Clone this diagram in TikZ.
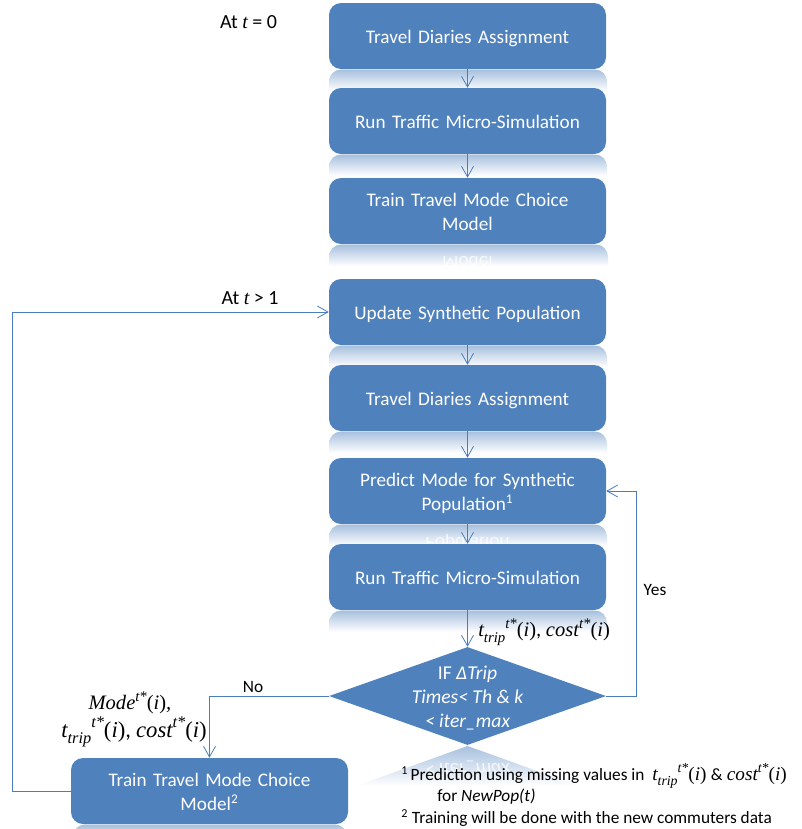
\documentclass[tikz,border=0pt]{standalone}
\usepackage{fontspec}
\setmainfont{Carlito}
\newfontfamily\mthfont{Liberation Serif}
\usetikzlibrary{arrows.meta,shapes.geometric}
\definecolor{boxblue}{HTML}{4F81BD}
\definecolor{linkblue}{HTML}{4A7EBB}
\tikzset{
  x=0.75pt,y=-0.75pt,
  flowbox/.style={draw=none,fill=boxblue,rounded corners=9pt,minimum width=207.75pt,minimum height=49.5pt,text width=190pt,align=center,text=white,font=\fontsize{14.4}{18}\selectfont,inner sep=0pt,text height=11.5pt,text depth=0.3pt},
  twoline/.style={text depth=19pt},
  decide/.style={diamond,fill=boxblue,draw=none,minimum width=207.75pt,minimum height=73.5pt,inner sep=0pt,aspect=2.83},
  decidetext/.style={text=white,font=\fontsize{14.7}{18}\selectfont\itshape,align=center,inner sep=0pt},
  link/.style={draw=linkblue,line width=0.7pt,-{Straight Barb[length=8pt,width=9pt,line width=0.6pt]}},
  reflshade/.style={top color=boxblue!50,bottom color=white,draw=none},
  mirror/.style={yscale=-1,transform shape,text=white,text opacity=0.75,font=\fontsize{14.4}{18}\selectfont,inner sep=0pt},
  lbl/.style={font=\fontsize{13}{15}\selectfont,text=black,inner sep=0pt},
  biglbl/.style={font=\fontsize{15}{15}\selectfont,text=black,inner sep=0pt},
  mathlbl/.style={font=\fontsize{15.4}{15}\selectfont,text=black,inner sep=0pt},
  note/.style={font=\fontsize{12.96}{15}\selectfont,text=black,inner sep=0pt,anchor=west},
}
% faded mirror image under a box whose bottom edge lies at y=#1; #2 and #3 are its left and right edges
\newcommand{\refl}[3]{\shade[reflshade] (#2,#1+22) -- (#2,#1+10) [rounded corners=9pt] -- (#2,#1+0.5) -- (#3,#1+0.5) [sharp corners] -- (#3,#1+22) -- cycle;}
\newcommand{\smallidx}[2]{\raisebox{#1}{\scalebox{0.72}{#2}}}
\newcommand{\ttrip}{\mbox{\mthfont\itshape t\smallidx{-0.28em}{trip}\smallidx{0.42em}{t*}{\upshape(}i{\upshape)}}}
\newcommand{\ccost}{\mbox{\mthfont\itshape cost\smallidx{0.42em}{t*}{\upshape(}i{\upshape)}}}
\newcommand{\mmode}{\mbox{\mthfont\itshape Mode\smallidx{0.42em}{t*}{\upshape(}i{\upshape)},}}
\begin{document}
\begin{tikzpicture}
\useasboundingbox (0,0) rectangle (801,829);
% reflections under the boxes
\refl{69}{329}{607}
\refl{154}{329}{607}
\refl{244}{329}{608}
\refl{345}{329}{607}
\refl{431}{329}{607}
\refl{524}{329}{607}
\refl{610}{329}{607}
\refl{824}{73}{347}
\shade[reflshade] (467.5,746) -- (356,786) -- (579,786) -- cycle;
\node[mirror] (mmodel) at (467.5,263) {Model};
\node[mirror] (mpop) at (467.5,543) {Population};
\node[mirror,font=\fontsize{14.7}{18}\selectfont\itshape] (miter) at (467.5,769) {< iter\_max};
% cover anything that runs past the fade
\fill[white] (329,266) rectangle (608,278);
% boxes
\node[flowbox] (a1) at (467.5,36) {Travel Diaries Assignment};
\node[flowbox] (a2) at (467.5,121) {Run Traffic Micro-Simulation};
\node[flowbox,twoline] (a3) at (467.5,211) {Train Travel Mode Choice\\Model};
\node[flowbox] (b1) at (467.5,312) {Update Synthetic Population};
\node[flowbox] (b2) at (467.5,398) {Travel Diaries Assignment};
\node[flowbox,twoline,text depth=18pt] (b3) at (467.5,491) {Predict Mode for Synthetic\\Population\textsuperscript{1}};
\node[flowbox] (b4) at (467.5,577) {Run Traffic Micro-Simulation};
\node[flowbox,twoline] (c) at (209.5,791) {Train Travel Mode Choice\\Model\textsuperscript{2}};
\node[decide] (d) at (467.5,696) {};
\node[decidetext] (dt) at (467.5,698) {{\upshape IF} ΔTrip\\Times< Th \& k\\< iter\_max};
% connectors
\draw[link] (a1) -- (a2);
\draw[link] (a2) -- (a3);
\draw[link] (b1) -- (b2);
\draw[link] (b2) -- (b3);
\draw[link] (b3) -- (b4);
\draw[link] (b4) -- (d);
\draw[link] (d.east) -- ++(30,0) |- (b3.east);
\draw[link] (d.west) -| (c.north);
\draw[link] (c.west) -- ++(-58,0) |- (b1.west);
% labels
\node[biglbl] (l0) at (248.5,22) {At {\mthfont\itshape t} = 0};
\node[biglbl] (l1) at (250,298) {At {\mthfont\itshape t} > 1};
\node[lbl] (yes) at (655,590) {Yes};
\node[lbl] (no) at (253,687) {No};
\node[mathlbl,anchor=west] (m1) at (478,632) {\ttrip, \ccost};
\node[mathlbl,anchor=east,font=\fontsize{17}{15}\selectfont] (m2) at (207,732) {\ttrip, \ccost};
\node[mathlbl] (m3) at (130,703) {\mmode};
\node[note] (n1) at (401,776) {\textsuperscript{1}\hspace{-1pt} Prediction using missing values in \ {\fontsize{14.4}{15}\selectfont\ttrip{} {\fontsize{12.96}{15}\selectfont\&} \ccost}};
\node[note] (n2) at (437,797) {for \textit{NewPop(t)}};
\node[note] (n3) at (401,818) {\textsuperscript{2} Training will be done with the new commuters data};
\end{tikzpicture}
\end{document}
